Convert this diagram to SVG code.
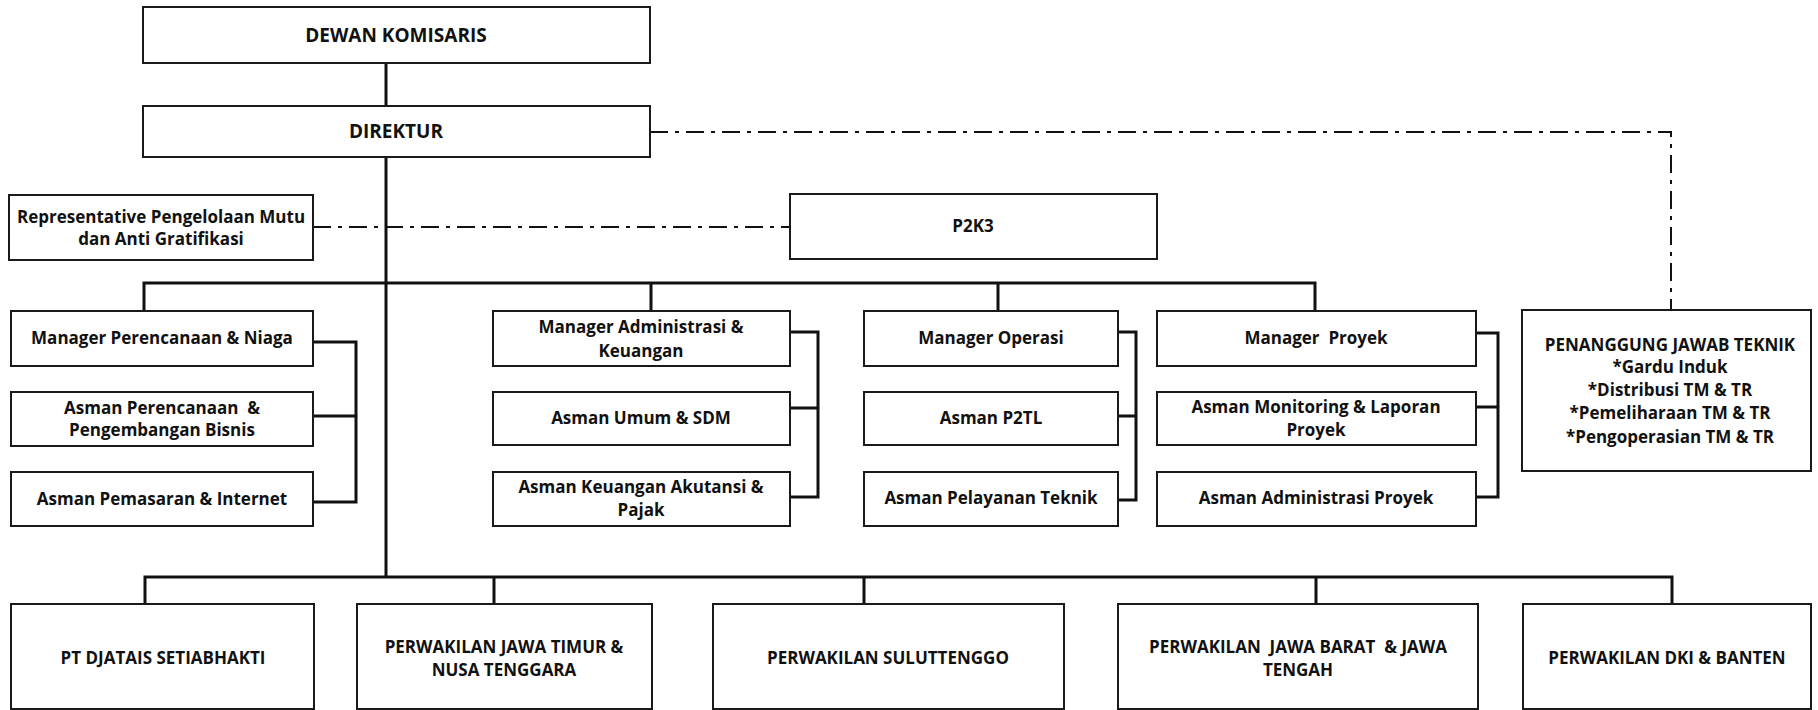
<svg xmlns="http://www.w3.org/2000/svg" width="1818" height="710" viewBox="0 0 1818 710">
<style>
rect.box{fill:#fff;stroke:#1a1a1a;stroke-width:2}
text{font-family:"Open Sans","Liberation Sans",sans-serif;font-weight:700;font-size:17px;fill:#111;text-anchor:middle}
text.big{font-size:19px}
.conn line,.conn path{stroke:#111;stroke-width:3;fill:none}
.conn .dd{stroke-width:2;stroke-dasharray:18 7 4 7}
</style>
<rect width="1818" height="710" fill="#fff"/>
<g class="conn">
<line x1="386" y1="63" x2="386" y2="106"/>
<line x1="386" y1="157" x2="386" y2="578"/>
<path d="M144 311V283H1315V311M651 283V311M998 283V311"/>
<path d="M313 342H356V502H313M313 416H356"/>
<path d="M790 332H818V497H790M790 408H818"/>
<path d="M1118 332H1136V500H1118M1118 416H1136"/>
<path d="M1476 333H1498V497H1476M1476 407H1498"/>
<path d="M145 604V577H1672V604M494 577V604M864 577V604M1316 577V604"/>
<path class="dd" d="M650 132H1671V310"/>
<path class="dd" d="M313 227H790"/>
</g>
<g id="dewan"><rect class="box" x="143" y="7" width="507" height="56"/><text class="big" x="396" y="42">DEWAN KOMISARIS</text></g>
<g id="direktur"><rect class="box" x="143" y="106" width="507" height="51"/><text class="big" x="396" y="138">DIREKTUR</text></g>
<g id="rep"><rect class="box" x="9" y="195" width="304" height="65"/><text x="161" y="223">Representative Pengelolaan Mutu</text><text x="161" y="245">dan Anti Gratifikasi</text></g>
<g id="p2k3"><rect class="box" x="790" y="194" width="367" height="65"/><text x="973" y="232">P2K3</text></g>
<g id="mgr-pn"><rect class="box" x="11" y="311" width="302" height="55"/><text x="162" y="344">Manager Perencanaan &amp; Niaga</text></g>
<g id="asman-pb"><rect class="box" x="11" y="392" width="302" height="54"/><text x="162" y="414" xml:space="preserve">Asman Perencanaan  &amp;</text><text x="162" y="436">Pengembangan Bisnis</text></g>
<g id="asman-pi"><rect class="box" x="11" y="472" width="302" height="54"/><text x="162" y="505">Asman Pemasaran &amp; Internet</text></g>
<g id="mgr-ak"><rect class="box" x="493" y="311" width="297" height="55"/><text x="641" y="333">Manager Administrasi &amp;</text><text x="641" y="357">Keuangan</text></g>
<g id="asman-usdm"><rect class="box" x="493" y="392" width="297" height="53"/><text x="641" y="424">Asman Umum &amp; SDM</text></g>
<g id="asman-kap"><rect class="box" x="493" y="472" width="297" height="54"/><text x="641" y="493">Asman Keuangan Akutansi &amp;</text><text x="641" y="516">Pajak</text></g>
<g id="mgr-op"><rect class="box" x="864" y="311" width="254" height="55"/><text x="991" y="344">Manager Operasi</text></g>
<g id="asman-p2tl"><rect class="box" x="864" y="392" width="254" height="53"/><text x="991" y="424">Asman P2TL</text></g>
<g id="asman-pt"><rect class="box" x="864" y="472" width="254" height="54"/><text x="991" y="504">Asman Pelayanan Teknik</text></g>
<g id="mgr-proyek"><rect class="box" x="1157" y="311" width="319" height="55"/><text x="1316" y="344" xml:space="preserve">Manager  Proyek</text></g>
<g id="asman-mlp"><rect class="box" x="1157" y="392" width="319" height="53"/><text x="1316" y="413">Asman Monitoring &amp; Laporan</text><text x="1316" y="436">Proyek</text></g>
<g id="asman-ap"><rect class="box" x="1157" y="472" width="319" height="54"/><text x="1316" y="504">Asman Administrasi Proyek</text></g>
<g id="pjt"><rect class="box" x="1522" y="310" width="289" height="161"/><text x="1670" y="351">PENANGGUNG JAWAB TEKNIK</text><text x="1670" y="373">*Gardu Induk</text><text x="1670" y="396">*Distribusi TM &amp; TR</text><text x="1670" y="419">*Pemeliharaan TM &amp; TR</text><text x="1670" y="443">*Pengoperasian TM &amp; TR</text></g>
<g id="pt-djatais"><rect class="box" x="11" y="604" width="303" height="105"/><text x="163" y="664">PT DJATAIS SETIABHAKTI</text></g>
<g id="jatim"><rect class="box" x="357" y="604" width="295" height="105"/><text x="504" y="653">PERWAKILAN JAWA TIMUR &amp;</text><text x="504" y="676">NUSA TENGGARA</text></g>
<g id="sulut"><rect class="box" x="713" y="604" width="351" height="105"/><text x="888" y="664">PERWAKILAN SULUTTENGGO</text></g>
<g id="jabar"><rect class="box" x="1118" y="604" width="360" height="105"/><text x="1298" y="653" xml:space="preserve">PERWAKILAN  JAWA BARAT  &amp; JAWA</text><text x="1298" y="676">TENGAH</text></g>
<g id="dki"><rect class="box" x="1523" y="604" width="288" height="105"/><text x="1667" y="664">PERWAKILAN DKI &amp; BANTEN</text></g>
</svg>
